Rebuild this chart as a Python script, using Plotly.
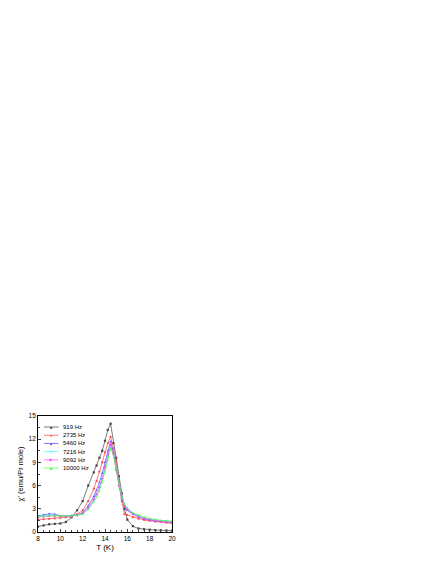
import plotly.graph_objects as go

# Temperature points (K)
T = [8, 8.5, 9, 9.5, 10, 10.5, 11, 11.5, 12, 12.5, 13, 13.25, 13.5, 13.75, 14,
     14.25, 14.5, 14.75, 15, 15.25, 15.5, 15.75, 16, 16.5, 17, 17.5, 18, 18.5,
     19, 19.5, 20]

# chi' (emu/Pr mole) per frequency
chi_919 = [0.7, 0.85, 1.0, 1.05, 1.1, 1.3, 1.9, 2.8, 4.0, 6.0, 7.7, 8.6, 9.6,
           10.5, 11.8, 13.2, 14.0, 11.5, 9.6, 7.2, 5.0, 3.0, 1.6, 0.75, 0.45,
           0.35, 0.3, 0.25, 0.22, 0.2, 0.18]
chi_2735 = [1.6, 1.65, 1.7, 1.75, 1.8, 1.9, 2.0, 2.3, 2.8, 4.0, 5.6, 6.6, 7.8,
            9.0, 10.3, 11.5, 12.3, 10.8, 9.3, 6.5, 4.0, 2.3, 2.2, 1.9, 1.7,
            1.55, 1.45, 1.35, 1.3, 1.2, 1.15]
chi_5460 = [2.1, 2.2, 2.35, 2.3, 2.1, 2.05, 2.1, 2.2, 2.5, 3.4, 4.6, 5.4, 6.4,
            7.6, 9.0, 10.5, 11.7, 10.3, 8.2, 6.0, 4.3, 3.3, 2.8, 2.3, 1.95,
            1.7, 1.55, 1.45, 1.35, 1.25, 1.2]
chi_7216 = [2.0, 2.1, 2.2, 2.2, 2.1, 2.1, 2.15, 2.2, 2.4, 3.1, 4.1, 4.8, 5.7,
            6.8, 8.2, 9.7, 11.0, 10.0, 8.1, 6.1, 4.5, 3.5, 3.0, 2.4, 2.05,
            1.8, 1.65, 1.55, 1.45, 1.4, 1.35]
chi_9092 = [1.9, 2.0, 2.1, 2.1, 2.05, 2.05, 2.1, 2.15, 2.4, 3.1, 4.2, 4.9, 5.8,
            6.9, 8.4, 10.0, 11.3, 10.1, 8.0, 6.0, 4.4, 3.4, 2.9, 2.35, 2.0,
            1.75, 1.6, 1.5, 1.4, 1.3, 1.25]
chi_10000 = [2.0, 2.05, 2.1, 2.1, 2.05, 2.05, 2.1, 2.15, 2.3, 2.9, 3.9, 4.5,
             5.3, 6.4, 7.8, 9.3, 10.8, 10.0, 8.2, 6.2, 4.6, 3.6, 3.1, 2.5,
             2.15, 1.9, 1.75, 1.6, 1.5, 1.45, 1.4]

labels = ["919 Hz", "2735 Hz", "5460 Hz", "7216 Hz", "9092 Hz", "10000 Hz"]
series = [chi_919, chi_2735, chi_5460, chi_7216, chi_9092, chi_10000]
colors = ["#444444", "#ff4444", "#4444ff", "#44ffff", "#ff44ff", "#44ff44"]
symbols = ["square", "circle", "triangle-up", "triangle-down", "diamond",
           "triangle-left"]
glyphs = ["■", "●", "▲", "▼", "◆", "◀"]

FONT = "Liberation Sans, Arial"

fig = go.Figure()
for lab, y, c, s in zip(labels, series, colors, symbols):
    fig.add_trace(go.Scatter(
        x=T, y=y, mode="lines+markers", name=lab,
        line=dict(color=c, width=0.7),
        marker=dict(symbol=s, size=2.2, color=c, line=dict(width=0))
    ))

# compact legend drawn by hand (plotly's legend rows are too tall here)
shapes, annots = [], []
for i, (lab, c, g) in enumerate(zip(labels, colors, glyphs)):
    yy = 0.905 - i * 0.0707
    shapes.append(dict(type="line", xref="paper", yref="paper",
                       x0=0.044, x1=0.153, y0=yy, y1=yy,
                       line=dict(color=c, width=0.7)))
    annots.append(dict(xref="paper", yref="paper", x=0.099, y=yy, text=g,
                       showarrow=False, font=dict(color=c, size=4),
                       xanchor="center", yanchor="middle"))
    annots.append(dict(xref="paper", yref="paper", x=0.168, y=yy, text=lab,
                       showarrow=False, xanchor="left", yanchor="middle",
                       font=dict(family=FONT, size=6, color="black")))

axis_font = dict(family=FONT, size=6.5, color="black")
fig.update_xaxes(
    range=[8, 20], dtick=2, ticks="inside", ticklen=3, tickwidth=0.6,
    minor=dict(dtick=0.5, ticks="inside", ticklen=2, tickwidth=0.6),
    showline=True, linecolor="black", linewidth=0.8, mirror=True,
    showgrid=False, zeroline=False, tickfont=axis_font,
    title=dict(text="T (K)", font=dict(family=FONT, size=8, color="black"),
               standoff=3)
)
fig.update_yaxes(
    range=[0, 15], dtick=3, ticks="inside", ticklen=3, tickwidth=0.6,
    minor=dict(dtick=1.5, ticks="inside", ticklen=2, tickwidth=0.6),
    showline=True, linecolor="black", linewidth=0.8, mirror=True,
    showgrid=False, zeroline=False, tickfont=axis_font,
    title=dict(text="χ' (emu/Pr mole)",
               font=dict(family=FONT, size=7.5, color="black"), standoff=3)
)
fig.update_layout(
    width=436, height=564,
    margin=dict(l=27, r=272, t=408, b=40),
    paper_bgcolor="white", plot_bgcolor="white",
    showlegend=False,
    shapes=shapes, annotations=annots,
)

fig.write_html("out.html")
